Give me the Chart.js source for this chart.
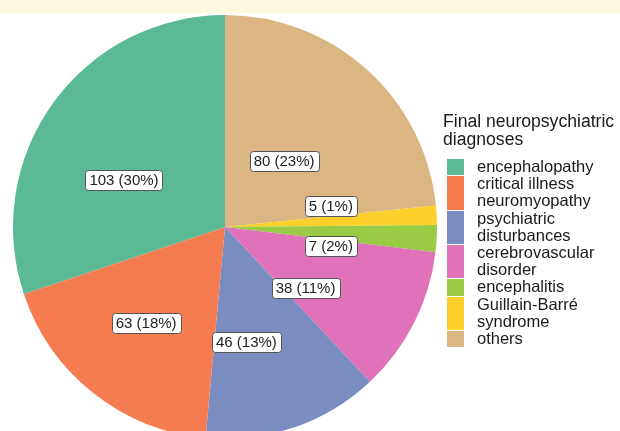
<!DOCTYPE html>
<html>
<head>
<meta charset="utf-8">
<script src="https://cdn.jsdelivr.net/npm/chart.js@4.4.1/dist/chart.umd.min.js"></script>
<style>
  html, body { margin: 0; padding: 0; background: #fff; overflow: hidden; }
  body { width: 620px; height: 431px; position: relative; font-family: "Liberation Sans", Arial, sans-serif; }
  #strip { position: absolute; left: 0; top: 0; width: 620px; height: 13px; background: #fff8e0; }
  #pie { position: absolute; left: 0; top: 0; }
  #legend { position: absolute; left: 443px; top: 113px; color: #1a1a1a; }
  #legend .title { font-size: 17.6px; line-height: 17.5px; white-space: pre-line; margin-bottom: 10px; }
  #legend .row { display: flex; align-items: center; }
  #legend .key { width: 17px; margin: 1px 13px 0 4px; align-self: stretch; }
  #legend .text { font-size: 16.5px; line-height: 17.2px; white-space: pre-line; }
</style>
</head>
<body>
<div id="strip"></div>
<canvas id="pie" width="450" height="454"></canvas>
<div id="legend"></div>
<script>
// Legend order (ggplot factor order)
const categories = [
  "encephalopathy",
  "critical illness\nneuromyopathy",
  "psychiatric\ndisturbances",
  "cerebrovascular\ndisorder",
  "encephalitis",
  "Guillain-Barré\nsyndrome",
  "others",
];
const counts = [103, 63, 46, 38, 7, 5, 80];
const legendTitle = "Final neuropsychiatric\ndiagnoses";

const palette = ["#5bb996", "#f57b51", "#7b8cc0", "#df72b9", "#99cc44", "#fdd02c", "#dcb682"];

// label box nudges (px), same order as categories
const labelNudges = [
  { dx: -15, dy: 15 },
  { dx: -13, dy: 13 },
  { dx: -13, dy: 15 },
  { dx: -14, dy: 13 },
  { dx: 0, dy: 13 },
  { dx: 0, dy: -15 },
  { dx: -12, dy: 13 },
];

const total = counts.reduce((a, b) => a + b, 0);
const labelTexts = counts.map((c) => `${c} (${Math.round((c / total) * 100)}%)`);

// pie goes clockwise from the top in reverse legend order
const order = categories.map((_, i) => i).reverse();

// white boxed count labels at the middle of each slice
const sliceLabels = {
  id: "sliceLabels",
  afterDatasetsDraw(chart) {
    const ctx = chart.ctx;
    const meta = chart.getDatasetMeta(0);
    ctx.save();
    ctx.font = '15px "Liberation Sans", Arial, sans-serif';
    ctx.textAlign = "center";
    ctx.textBaseline = "middle";
    meta.data.forEach((arc, j) => {
      const i = order[j];
      const p = arc.getProps(["x", "y", "startAngle", "endAngle", "outerRadius"], true);
      const mid = (p.startAngle + p.endAngle) / 2;
      const r = p.outerRadius * 0.5;
      const x = p.x + Math.cos(mid) * r + labelNudges[i].dx;
      const y = p.y + Math.sin(mid) * r + labelNudges[i].dy;
      const text = labelTexts[i];
      const w = ctx.measureText(text).width + 8;
      const h = 20;
      ctx.beginPath();
      ctx.roundRect(Math.round(x - w / 2) + 0.5, Math.round(y - h / 2) + 0.5, Math.round(w), h, 3);
      ctx.fillStyle = "#ffffff";
      ctx.fill();
      ctx.lineWidth = 1;
      ctx.strokeStyle = "#555555";
      ctx.stroke();
      ctx.fillStyle = "#222222";
      ctx.fillText(text, x, y + 1);
    });
    ctx.restore();
  },
};

new Chart(document.getElementById("pie"), {
  type: "pie",
  data: {
    labels: order.map((i) => categories[i]),
    datasets: [
      {
        data: order.map((i) => counts[i]),
        backgroundColor: order.map((i) => palette[i]),
        borderWidth: 0,
        hoverOffset: 0,
      },
    ],
  },
  options: {
    responsive: false,
    animation: false,
    devicePixelRatio: 1,
    layout: { padding: { left: 13, right: 13, top: 15, bottom: 15 } },
    plugins: {
      legend: { display: false },
      tooltip: { enabled: false },
    },
  },
  plugins: [sliceLabels],
});

// legend built from the same arrays
const legend = document.getElementById("legend");
const title = document.createElement("div");
title.className = "title";
title.textContent = legendTitle;
legend.appendChild(title);
categories.forEach((name, i) => {
  const row = document.createElement("div");
  row.className = "row";
  const key = document.createElement("div");
  key.className = "key";
  key.style.background = palette[i];
  const text = document.createElement("div");
  text.className = "text";
  text.textContent = name;
  row.appendChild(key);
  row.appendChild(text);
  legend.appendChild(row);
});
</script>
</body>
</html>
